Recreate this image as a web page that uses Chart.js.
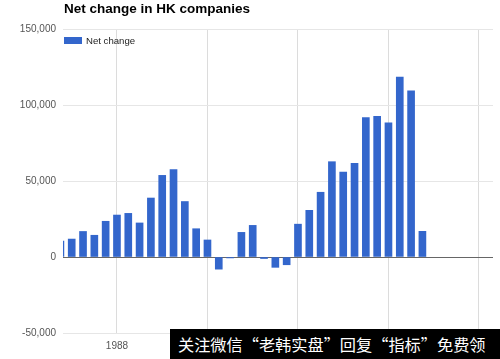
<!DOCTYPE html>
<html>
<head>
<meta charset="utf-8">
<script src="https://cdn.jsdelivr.net/npm/chart.js@4.4.1/dist/chart.umd.min.js"></script>
<style>
  body { margin: 0; background: #fff; }
  #wrap { position: relative; width: 500px; height: 359px; }
  #stamp {
    position: absolute; left: 170px; top: 329px; width: 330px; height: 30px;
    background: #000; color: #fff; overflow: hidden; white-space: nowrap;
    font: 16.2px "Noto Sans CJK SC", sans-serif; line-height: 30px;
    padding-left: 8px; box-sizing: border-box;
  }
</style>
</head>
<body>
<div id="wrap">
  <canvas id="chart" width="500" height="359"></canvas>
  <div id="stamp">关注微信“老韩实盘”回复“指标”免费领</div>
</div>
<script>
// --- datos ---
const years = [1983, 1984, 1985, 1986, 1987, 1988, 1989, 1990, 1991, 1992, 1993,
  1994, 1995, 1996, 1997, 1998, 1999, 2000, 2001, 2002, 2003, 2004, 2005,
  2006, 2007, 2008, 2009, 2010, 2011, 2012, 2013, 2014, 2015];
const netChange = [10500, 11800, 16800, 14300, 23500, 27600, 28700, 22400, 38800, 53700, 57500,
  36500, 18600, 11200, -8000, -600, 16200, 20800, -1000, -6800, -5100, 21600, 30700,
  42600, 62700, 55900, 61600, 91700, 92600, 88200, 118400, 109400, 16900];
const xTickYears = [1988, 1996, 2004, 2012, 2020];
const yTicks = [-50000, 0, 50000, 100000, 150000];

const titleText = "Net change in HK companies";
const seriesName = "Net change";
const barColor = "#3366cc";

// titulo y leyenda dibujados a mano (la leyenda va dentro del area)
const headerPlugin = {
  id: "header",
  afterDraw(chart) {
    const ctx = chart.ctx;
    const area = chart.chartArea;
    ctx.save();
    ctx.fillStyle = "#000";
    ctx.font = "bold 13.5px 'Liberation Sans', Arial, sans-serif";
    ctx.textBaseline = "alphabetic";
    ctx.textAlign = "left";
    ctx.fillText(titleText, area.left + 1, 13);

    ctx.fillStyle = barColor;
    ctx.fillRect(area.left + 1, 37, 18, 7);
    ctx.fillStyle = "#222";
    ctx.font = "9.6px 'Liberation Sans', Arial, sans-serif";
    ctx.textBaseline = "middle";
    ctx.fillText(seriesName, area.left + 23, 41);
    ctx.restore();
  }
};

new Chart(document.getElementById("chart"), {
  type: "bar",
  data: {
    datasets: [{
      label: seriesName,
      data: years.map((y, i) => ({ x: y, y: netChange[i] })),
      backgroundColor: barColor,
      barThickness: 7
    }]
  },
  options: {
    responsive: false,
    animation: false,
    layout: { padding: { top: 29, right: 7, left: 0, bottom: 0 } },
    plugins: {
      legend: { display: false },
      tooltip: { enabled: false }
    },
    scales: {
      x: {
        type: "linear",
        offset: false,
        min: 1983.23,
        max: 2021.24,
        afterBuildTicks: s => { s.ticks = xTickYears.map(v => ({ value: v })); },
        afterFit: s => { s.height = 26; },
        border: { display: false },
        grid: { offset: false, color: "#dcdcdc", drawTicks: false },
        ticks: {
          padding: 7,
          color: "#555",
          font: { family: "'Liberation Sans', Arial, sans-serif", size: 10 },
          callback: v => String(v)
        }
      },
      y: {
        min: -50000,
        max: 150000,
        afterBuildTicks: s => { s.ticks = yTicks.map(v => ({ value: v })); },
        afterFit: s => { s.width = 63; },
        border: { display: false },
        grid: {
          drawTicks: false,
          color: c => (c.tick && c.tick.value === 0) ? "#666" : "#e6e6e6"
        },
        ticks: {
          padding: 7,
          color: "#555",
          font: { family: "'Liberation Sans', Arial, sans-serif", size: 10 },
          callback: v => v.toLocaleString("en-US")
        }
      }
    }
  },
  plugins: [headerPlugin]
});
</script>
</body>
</html>
